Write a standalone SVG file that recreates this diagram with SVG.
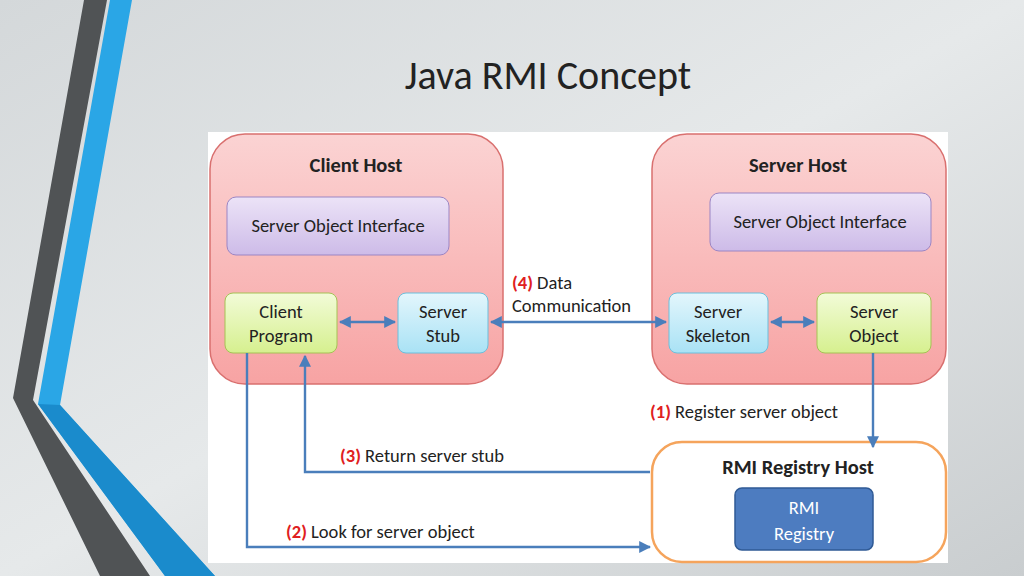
<svg xmlns="http://www.w3.org/2000/svg" width="1024" height="576" viewBox="0 0 1024 576">
<defs>
<linearGradient id="bg" x1="0" y1="0" x2="1" y2="1"><stop offset="0" stop-color="#d4d8da"/><stop offset="0.5" stop-color="#e6e9ea"/><stop offset="1" stop-color="#c9cdcf"/></linearGradient>
<linearGradient id="pink" x1="0" y1="0" x2="0" y2="1"><stop offset="0" stop-color="#fbd3d3"/><stop offset="1" stop-color="#f7a3a3"/></linearGradient>
<linearGradient id="purple" x1="0" y1="0" x2="0" y2="1"><stop offset="0" stop-color="#ece3f7"/><stop offset="1" stop-color="#cdbbe8"/></linearGradient>
<linearGradient id="green" x1="0" y1="0" x2="0" y2="1"><stop offset="0" stop-color="#f2fbd8"/><stop offset="1" stop-color="#d6f08f"/></linearGradient>
<linearGradient id="cyan" x1="0" y1="0" x2="0" y2="1"><stop offset="0" stop-color="#e3f6fc"/><stop offset="1" stop-color="#a9e2f5"/></linearGradient>
<marker id="ah" viewBox="0 0 10 10" refX="9" refY="5" markerWidth="5" markerHeight="5" orient="auto-start-reverse"><path d="M0,0 L10,5 L0,10 z" fill="#4a7ebb"/></marker>
<style>
.t{font-family:Calibri,"Carlito","Liberation Sans",sans-serif;fill:#222;}
.lbl{font-size:18.5px;text-anchor:middle;}
.hd{font-size:20.5px;font-weight:bold;text-anchor:middle;}
.c{stroke:#4a7ebb;stroke-width:2.4;fill:none;marker-end:url(#ah);}
.host{fill:url(#pink);stroke:#d9706f;stroke-width:1.5;}
.red{fill:#e02020;font-weight:bold;}
</style>
</defs>
<rect width="1024" height="576" fill="url(#bg)"/>
<polygon points="84,0 107,0 33,400 150,576 100,576 13,398" fill="#505355"/>
<polygon points="110,0 132,0 60,405 215,576 165,576 38,404" fill="#2aa6e6"/>
<polygon points="38,404 60,405 215,576 165,576" fill="#1a8bcc"/>
<text class="t" x="548" y="89" font-size="40" text-anchor="middle" fill="#333">Java RMI Concept</text>
<rect x="208" y="132" width="740" height="431" fill="#fff"/>
<g id="client-host"><rect class="host" x="210" y="134" width="293" height="250" rx="35"/><text class="t hd" x="356" y="172">Client Host</text></g>
<g id="server-host"><rect class="host" x="652" y="134" width="294" height="250" rx="35"/><text class="t hd" x="798" y="172">Server Host</text></g>
<g id="client-soi"><rect x="227" y="197" width="222" height="58" rx="9" fill="url(#purple)" stroke="#9b85c4"/><text class="t lbl" x="338" y="232">Server Object Interface</text></g>
<g id="server-soi"><rect x="710" y="193" width="221" height="58" rx="9" fill="url(#purple)" stroke="#9b85c4"/><text class="t lbl" x="820" y="228">Server Object Interface</text></g>
<g id="client-program"><rect x="225" y="293" width="112" height="60" rx="8" fill="url(#green)" stroke="#a5c255"/><text class="t lbl" x="281" y="318">Client</text><text class="t lbl" x="281" y="342">Program</text></g>
<g id="server-stub"><rect x="398" y="293" width="90" height="60" rx="8" fill="url(#cyan)" stroke="#6bbfdc"/><text class="t lbl" x="443" y="318">Server</text><text class="t lbl" x="443" y="342">Stub</text></g>
<g id="server-skeleton"><rect x="669" y="293" width="99" height="60" rx="8" fill="url(#cyan)" stroke="#6bbfdc"/><text class="t lbl" x="718" y="318">Server</text><text class="t lbl" x="718" y="342">Skeleton</text></g>
<g id="server-object"><rect x="817" y="293" width="114" height="60" rx="8" fill="url(#green)" stroke="#a5c255"/><text class="t lbl" x="874" y="318">Server</text><text class="t lbl" x="874" y="342">Object</text></g>
<g id="rmi-registry-host"><rect x="652" y="442" width="294" height="120" rx="30" fill="#fff" stroke="#f5a45c" stroke-width="2.5"/><text class="t hd" x="798" y="474">RMI Registry Host</text></g>
<g id="rmi-registry"><rect x="735" y="488" width="138" height="62" rx="7" fill="#4d7cc0" stroke="#2f5a95" stroke-width="1.5"/><text class="t lbl" x="804" y="514" style="fill:#fff">RMI</text><text class="t lbl" x="804" y="540" style="fill:#fff">Registry</text></g>
<g id="connectors">
<path class="c" d="M340,322 H395" marker-start="url(#ah)"/>
<path class="c" d="M491,322 H666" marker-start="url(#ah)"/>
<path class="c" d="M771,322 H814" marker-start="url(#ah)"/>
<path class="c" d="M873,353 V447"/>
<path class="c" d="M650,472 H305 V356"/>
<path class="c" d="M247,353 V547 H650"/>
</g>
<g font-size="18.5">
<text class="t" x="512" y="289"><tspan class="red">(4)</tspan> Data</text>
<text class="t" x="512" y="312">Communication</text>
<text class="t" x="650" y="418"><tspan class="red">(1)</tspan> Register server object</text>
<text class="t" x="340" y="462"><tspan class="red">(3)</tspan> Return server stub</text>
<text class="t" x="286" y="538"><tspan class="red">(2)</tspan> Look for server object</text>
</g>
</svg>
